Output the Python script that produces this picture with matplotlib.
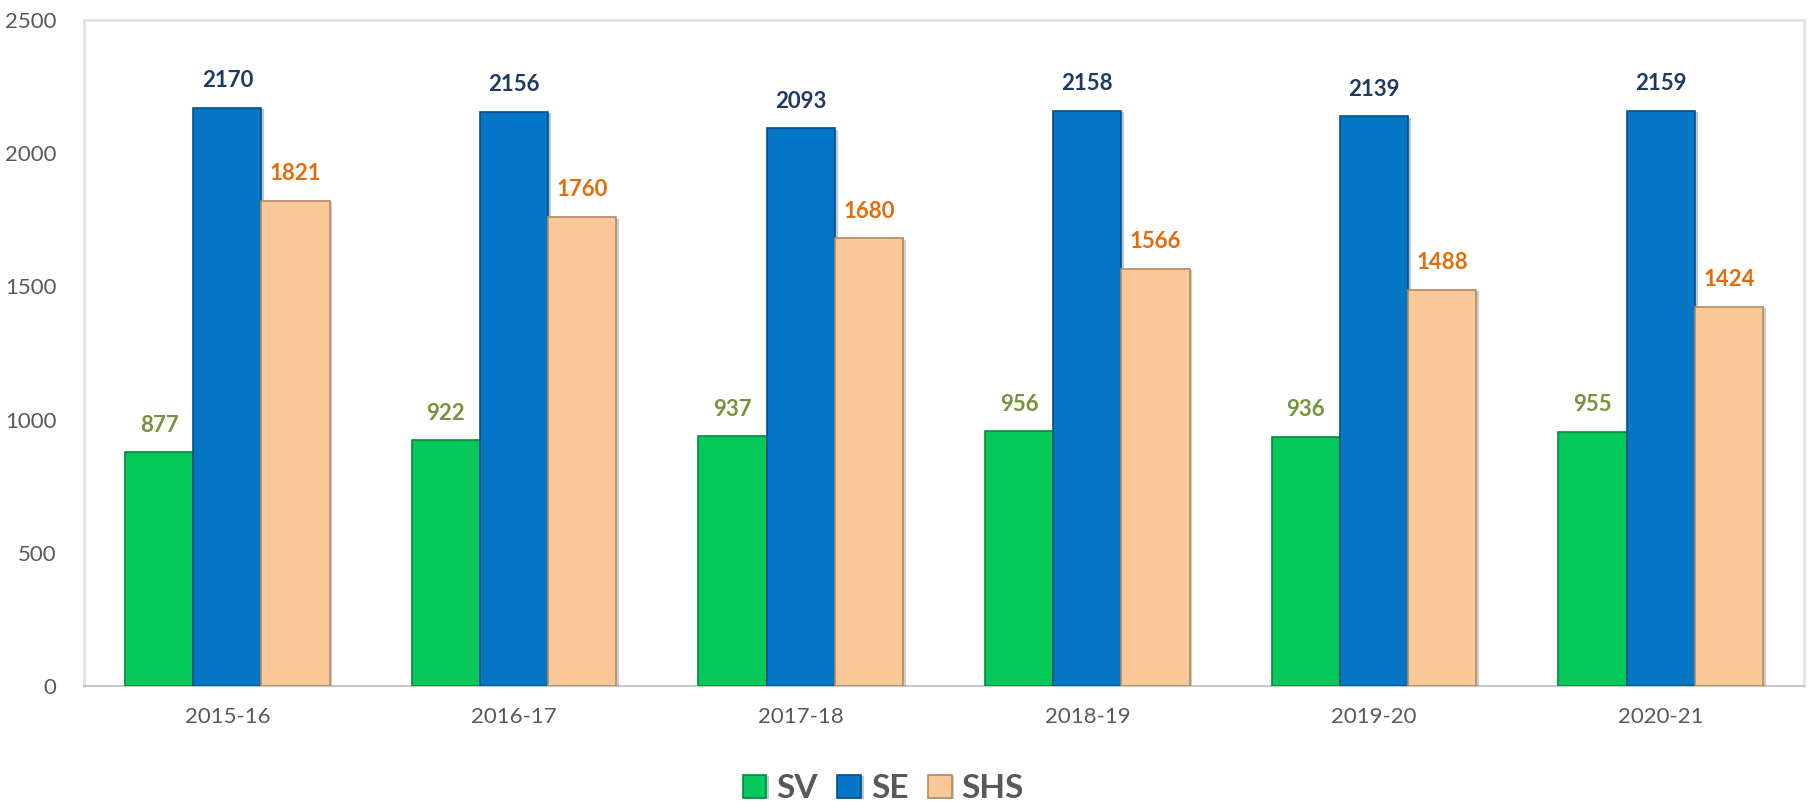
import numpy as np
import matplotlib.pyplot as plt
import matplotlib.patheffects as pe

years = ['2015-16', '2016-17', '2017-18', '2018-19', '2019-20', '2020-21']
sv = [877, 922, 937, 956, 936, 955]
se = [2170, 2156, 2093, 2158, 2139, 2159]
shs = [1821, 1760, 1680, 1566, 1488, 1424]

series = [
    ('SV', sv, '#05C85A', '#038A3E', '#77933C'),
    ('SE', se, '#0575C6', '#034F87', '#1F3864'),
    ('SHS', shs, '#FBC897', '#B08A66', '#E46C0A'),
]

plt.rcParams['font.family'] = ['Lato', 'DejaVu Sans']

fig = plt.figure(figsize=(18.10, 8.01), dpi=100)
ax = fig.add_axes([84 / 1810, 1 - 686 / 801, 1720 / 1810, 666 / 801])

x = np.arange(len(years))
w = 0.238
for i, (name, vals, fc, ec, lc) in enumerate(series):
    pos = x + (i - 1) * w
    bars = ax.bar(pos, vals, w, color=fc, edgecolor=ec, linewidth=1.2, label=name,
                  zorder=3)
    for b in bars:
        b.set_path_effects([pe.SimplePatchShadow(offset=(2, -1), alpha=0.25),
                            pe.Normal()])
    for p, v in zip(pos, vals):
        ax.annotate(str(v), (p, v), xytext=(0, 12), textcoords='offset points',
                    ha='center', va='bottom', fontsize=16, fontweight='bold',
                    color=lc)

ax.set_xlim(-0.5, 5.5)
ax.set_ylim(0, 2500)
ax.set_yticks([0, 500, 1000, 1500, 2000, 2500])
ax.set_xticks(x)
ax.set_xticklabels(years)
ax.tick_params(axis='both', length=0, labelsize=16, labelcolor='#595959')
ax.tick_params(axis='y', pad=20)
ax.tick_params(axis='x', pad=15)
for s in ['top', 'right', 'left']:
    ax.spines[s].set_color('#E3E3E3')
    ax.spines[s].set_linewidth(2)
ax.spines['bottom'].set_color('#C8C8C8')
ax.spines['bottom'].set_linewidth(1.5)

leg = fig.legend(loc='lower center', bbox_to_anchor=(0.488, -0.04), ncol=3,
                 frameon=False, fontsize=24, handlelength=0.7, handleheight=0.7,
                 columnspacing=0.6, handletextpad=0.3)
for t in leg.get_texts():
    t.set_color('#595959')
    t.set_fontweight('bold')

fig.savefig('out.png', dpi=100)
